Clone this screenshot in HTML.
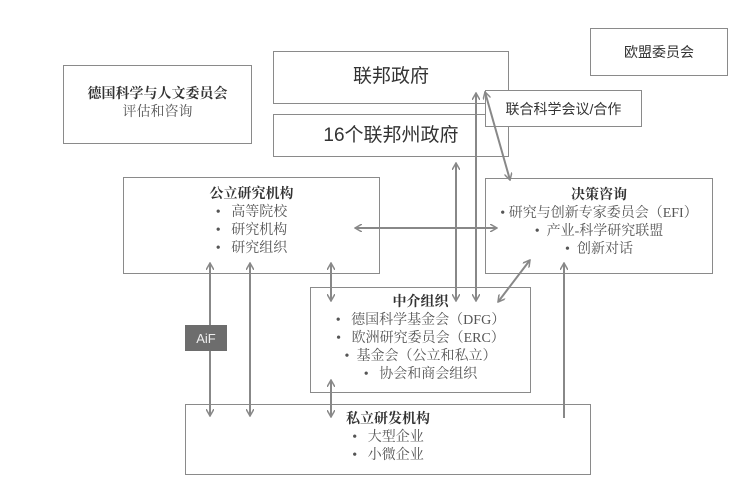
<!DOCTYPE html>
<html><head><meta charset="utf-8"><style>
body{margin:0;width:746px;height:489px;background:#fff;position:relative;overflow:hidden;font-family:"Liberation Serif","Noto Serif CJK SC",serif;color:#555}
.b{position:absolute;border:1.5px solid #8a8a8a;background:#fff;box-sizing:border-box;text-align:center;font-size:14px;line-height:18px}
.h{font-weight:bold;color:#333}
svg{position:absolute;left:0;top:0}
.s{font-family:"Liberation Sans","Noto Sans CJK SC",sans-serif}
</style></head><body>
<div class="b" style="left:63px;top:65px;width:189px;height:79px;padding-top:20px"><div class="h">德国科学与人文委员会</div><div>评估和咨询</div></div>
<div class="b s" style="left:590px;top:28px;width:138px;height:48px;padding-top:14px;color:#333">欧盟委员会</div>
<div class="b s" style="left:273px;top:51px;width:236px;height:53px;padding-top:13px;font-size:19px;line-height:24px;color:#333">联邦政府</div>
<div class="b s" style="left:273px;top:114px;width:236px;height:43px;padding-top:9px;font-size:19px;line-height:24px;color:#333">16个联邦州政府</div>
<div class="b s" style="left:485px;top:90px;width:157px;height:37px;padding-top:9px;color:#333;font-size:14px">联合科学会议/合作</div>
<div class="b" style="left:123px;top:177px;width:257px;height:97px;padding-top:8px"><div class="h">公立研究机构</div><div>•&nbsp;&nbsp; 高等院校</div><div>•&nbsp;&nbsp; 研究机构</div><div>•&nbsp;&nbsp; 研究组织</div></div>
<div class="b" style="left:485px;top:178px;width:228px;height:96px;padding-top:8px;white-space:nowrap"><div class="h">决策咨询</div><div>• 研究与创新专家委员会（EFI）</div><div>•&nbsp; 产业-科学研究联盟</div><div>•&nbsp; 创新对话</div></div>
<div class="b" style="left:310px;top:287px;width:221px;height:106px;padding-top:6px;white-space:nowrap"><div class="h">中介组织</div><div>•&nbsp;&nbsp; 德国科学基金会（DFG）</div><div>•&nbsp;&nbsp; 欧洲研究委员会（ERC）</div><div>•&nbsp; 基金会（公立和私立）</div><div>•&nbsp;&nbsp; 协会和商会组织</div></div>
<div class="b" style="left:185px;top:404px;width:406px;height:71px;padding-top:6px"><div class="h">私立研发机构</div><div>•&nbsp;&nbsp; 大型企业</div><div>•&nbsp;&nbsp; 小微企业</div></div>
<svg width="746" height="489">
<defs><marker id="a" markerWidth="8" markerHeight="8" refX="7" refY="4" orient="auto-start-reverse" markerUnits="userSpaceOnUse"><path d="M0,0 L7,4 L0,8" fill="none" stroke="#888" stroke-width="1.5"/></marker></defs>
<g stroke="#888" stroke-width="2" fill="none">
<line x1="210" y1="263" x2="210" y2="416" marker-start="url(#a)" marker-end="url(#a)"/>
<line x1="250" y1="263" x2="250" y2="416" marker-start="url(#a)" marker-end="url(#a)"/>
<line x1="331" y1="263" x2="331" y2="301" marker-start="url(#a)" marker-end="url(#a)"/>
<line x1="331" y1="380" x2="331" y2="417" marker-start="url(#a)" marker-end="url(#a)"/>
<line x1="456" y1="163" x2="456" y2="301" marker-start="url(#a)" marker-end="url(#a)"/>
<line x1="476" y1="93" x2="476" y2="301" marker-start="url(#a)" marker-end="url(#a)"/>
<line x1="485" y1="92" x2="510" y2="180" marker-start="url(#a)" marker-end="url(#a)"/>
<line x1="355" y1="228" x2="497" y2="228" marker-start="url(#a)" marker-end="url(#a)"/>
<line x1="530" y1="260" x2="498" y2="302" marker-start="url(#a)" marker-end="url(#a)"/>
<line x1="564" y1="418" x2="564" y2="263" marker-end="url(#a)"/>
</g>
<rect x="185" y="325" width="42" height="26" fill="#6d6d6d"/>
<text x="206" y="343" fill="#eee" font-size="13" text-anchor="middle" font-family="Liberation Sans,sans-serif">AiF</text>
</svg>
</body></html>
